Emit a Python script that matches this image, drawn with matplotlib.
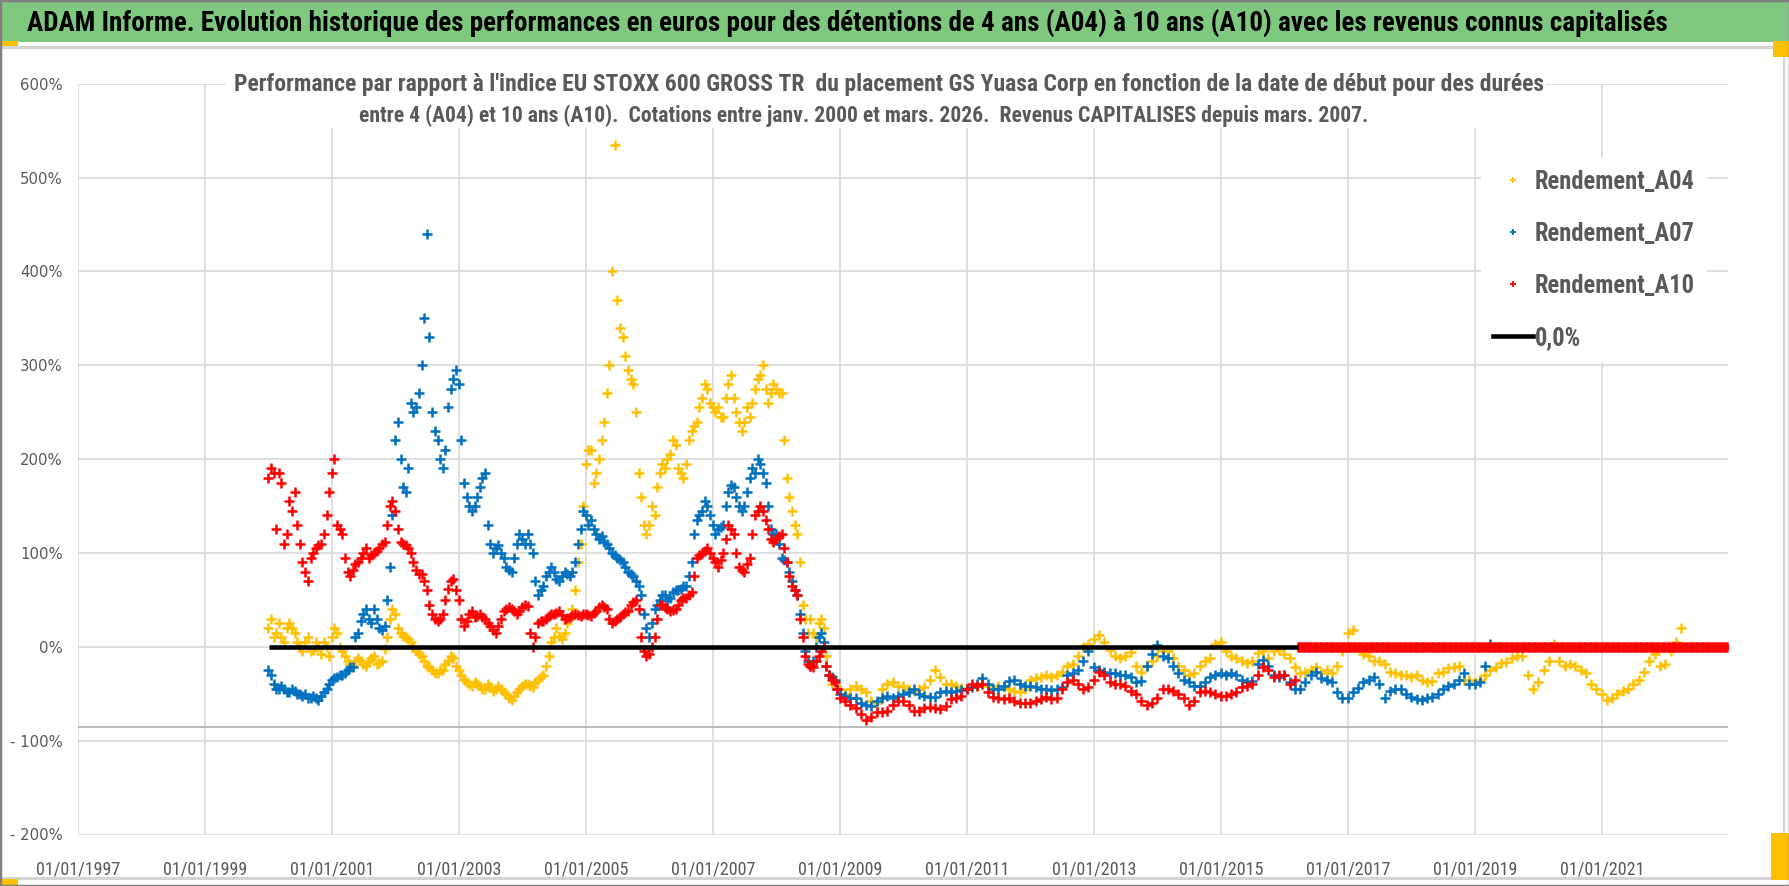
import numpy as np
import pandas as pd
import matplotlib
matplotlib.use("Agg")
import matplotlib.pyplot as plt
import matplotlib.dates as mdates
from matplotlib import font_manager as fm
from matplotlib.patches import Rectangle
from matplotlib.lines import Line2D

# ---- data (percent) ----
# start-of-month readings from Jan 2000
a04 = [20, 10, 25, 5, 25, 15, 0, 5, -5, 5, -8, 0,
       10, 15, -5, -15, -20, -12, -18, -15, -10, -17, -2, 30,
       35, 15, 10, 5, -5, -10, -20, -25, -28, -25, -15, -12,
       -25, -35, -40, -38, -42, -45, -43, -45, -45, -50, -57, -48,
       -42, -40, -43, -35, -30, -10, 10, 12, 15, 30, 60, 110,
       195, 210, 185, 220, 270, 400, 370, 330, 295, 280, 185, 130,
       130, 140, 185, 190, 205, 215, 185, 195, 230, 240, 265, 275,
       255, 255, 245, 280, 265, 240, 240, 245, 275, 290, 275, 270,
       275, 270, 180, 145, 120, 45, 15, 15, 25, 20, -30, -35,
       -45, -50, -45, -42, -45, -48, -58, -60, -45, -40, -38, -42,
       -42, -45, -47, -45, -43, -35, -25, -32, -40, -40, -42, -44,
       -45, -43, -42, -40, -42, -45, -42, -43, -45, -47, -48, -45,
       -35, -33, -32, -30, -32, -30, -27, -20, -18, -10, 0, 3,
       8, 13, 5, -3, -10, -12, -10, -6, -20, -27, -20, -15,
       -10, -5, -5, -12, -20, -25, -30, -28, -20, -15, -12, 3,
       5, -5, -10, -12, -15, -17, -15, -7, -5, -12, -5, -3,
       -8, -12, -22, -28, -27, -25, -22, -28, -25, -28, -20, -5,
       15, 18, 0, -8, -10, -15, -15, -18, -27, -28, -30, -30,
       -32, -30, -35, -38, -36, -28, -27, -23, -22, -20, -35, -35,
       -37, -35, -30, -25, -22, -17, -16, -12, -10, -10, -30, -45,
       -38, -25, -15, 3, -15, -20, -18, -20, -25, -28, -40, -45,
       -50, -57, -55, -50, -47, -45, -40, -35, -27, -15, -8, -20,
       -18, -5, 5, 20]

a07 = [-25, -40, -45, -45, -48, -47, -50, -50, -55, -55, -52, -45,
       -35, -32, -30, -25, -22, 15, 35, 30, 40, 20, 22, 85,
       220, 200, 165, 260, 255, 300, 440, 250, 220, 190, 255, 285,
       280, 175, 150, 150, 170, 185, 110, 105, 100, 85, 80, 110,
       115, 120, 100, 55, 65, 80, 80, 70, 80, 75, 90, 125,
       140, 135, 120, 118, 110, 100, 95, 90, 80, 75, 65, 35,
       10, 40, 50, 55, 52, 60, 62, 65, 90, 135, 145, 150,
       130, 125, 130, 165, 170, 150, 150, 180, 185, 195, 175, 125,
       120, 95, 90, 70, 55, 15, -15, -15, 10, 5, -30, -35,
       -50, -52, -55, -55, -60, -62, -63, -58, -55, -52, -55, -52,
       -50, -48, -45, -50, -52, -54, -53, -48, -47, -48, -47, -46,
       -45, -43, -40, -33, -40, -45, -45, -42, -36, -35, -40, -42,
       -42, -43, -45, -45, -46, -45, -43, -30, -28, -25, -15, -5,
       -22, -25, -27, -28, -28, -30, -30, -32, -37, -36, -20, -8,
       2, -10, -12, -20, -28, -35, -38, -42, -42, -38, -32, -30,
       -28, -30, -28, -30, -35, -38, -36, -18, -14, -20, -30, -32,
       -30, -38, -45, -45, -38, -30, -27, -33, -35, -37, -48, -55,
       -55, -48, -44, -38, -35, -32, -40, -55, -47, -45, -45, -50,
       -53, -56, -57, -55, -53, -50, -45, -42, -40, -35, -28, -40,
       -40, -38, -20, 3]

a10 = [180, 185, 185, 110, 155, 165, 110, 80, 95, 105, 110, 140,
       185, 130, 120, 80, 82, 90, 100, 95, 100, 105, 112, 150,
       145, 112, 108, 100, 82, 78, 60, 35, 28, 35, 62, 72,
       50, 22, 35, 32, 35, 30, 22, 15, 30, 40, 40, 35,
       42, 43, 0, 25, 28, 33, 35, 38, 30, 32, 35, 33,
       35, 33, 38, 45, 40, 25, 30, 35, 38, 48, 40, -5,
       -8, 10, 45, 42, 38, 40, 50, 52, 58, 95, 100, 105,
       95, 85, 100, 130, 120, 85, 80, 95, 140, 150, 135, 115,
       115, 120, 90, 65, 55, 10, -18, -22, -10, 0, -30, -38,
       -55, -58, -62, -65, -72, -78, -75, -70, -70, -68, -62, -58,
       -58, -62, -68, -68, -65, -64, -65, -66, -63, -56, -55, -52,
       -45, -40, -42, -40, -48, -54, -55, -56, -55, -58, -60, -60,
       -60, -58, -56, -54, -56, -55, -45, -38, -35, -40, -45, -43,
       -35, -27, -30, -38, -40, -40, -42, -47, -50, -58, -62, -60,
       -55, -45, -45, -47, -50, -55, -62, -58, -48, -47, -48, -50,
       -52, -52, -50, -48, -43, -42, -40, -30, -22, -25, -32, -30,
       -30, -40, -35]

# mid-month readings, Jan 2000 - Dec 2008 (the scattered part of the clouds)
a04_mid = [30, 15, 10, 20, 20, 5, -5, 10, -3, 0, 5, -10,
           20, 0, -10, -18, -15, -15, -20, -12, -18, -15, 10, 40,
           20, 12, 8, 0, -8, -15, -22, -28, -25, -18, -10, -20,
           -30, -38, -42, -40, -45, -40, -47, -42, -48, -55, -52, -45,
           -40, -42, -38, -32, -20, 5, 20, 8, 25, 40, 90, 150,
           210, 175, 200, 240, 300, 535, 340, 310, 285, 250, 160, 120,
           150, 170, 195, 200, 220, 190, 180, 220, 235, 255, 280, 260,
           250, 245, 265, 290, 250, 230, 255, 260, 285, 300, 260, 280,
           270, 220, 160, 130, 90, 30, 30, 10, 30, -10, -40, -45]

a07_mid = [-30, -45, -42, -48, -45, -50, -52, -55, -52, -57, -48, -40,
           -33, -30, -28, -22, 10, 28, 40, 25, 30, 18, 50, 140,
           240, 170, 190, 250, 270, 350, 330, 230, 200, 210, 275, 295,
           220, 160, 145, 160, 180, 130, 100, 108, 95, 82, 95, 120,
           110, 110, 70, 60, 75, 85, 72, 75, 78, 80, 110, 145,
           130, 125, 115, 112, 105, 98, 92, 85, 78, 70, 55, 20,
           25, 45, 55, 50, 58, 60, 65, 75, 120, 140, 155, 140,
           120, 128, 150, 172, 160, 145, 165, 190, 200, 185, 150, 120,
           110, 92, 80, 60, 35, -5, -20, 0, 15, -20, -32, -45]

a10_mid = [190, 125, 175, 120, 145, 130, 90, 70, 100, 108, 120, 165,
           200, 125, 95, 75, 88, 95, 105, 98, 102, 110, 130, 155,
           125, 110, 105, 90, 78, 70, 45, 30, 30, 50, 70, 60,
           30, 28, 38, 33, 32, 25, 18, 22, 38, 42, 38, 38,
           45, 15, 10, 28, 30, 35, 36, 34, 31, 34, 34, 35,
           34, 36, 42, 42, 30, 28, 32, 37, 45, 50, 10, -10,
           0, 30, 45, 40, 39, 45, 52, 55, 75, 98, 102, 100,
           90, 92, 115, 125, 100, 82, 88, 120, 145, 145, 125, 112,
           118, 105, 75, 60, 30, -10, -20, -15, -5, -20, -35, -45]

# A10 after March 2016: no complete 10-year window -> plotted at 0
a10_flat_start, a10_flat_end = "2016-03-20", "2022-12-31"
zero_start, zero_end = "2000-01-03", "2016-03-18"

labels = ["Rendement_A04", "Rendement_A07", "Rendement_A10", "0,0%"]
colors = ["#FFC000", "#0070C0", "#FF0000", "#000000"]
year_ticks = list(range(1997, 2022, 2))
y_ticks = [600, 500, 400, 300, 200, 100, 0, -100, -200]
y_tick_labels = ["600%", "500%", "400%", "300%", "200%", "100%", "0%", "- 100%", "- 200%"]

title = ("ADAM Informe. Evolution historique des performances en euros pour des "
         "détentions de 4 ans (A04) à 10 ans (A10) avec les revenus connus capitalisés")
sub1 = ("Performance par rapport à l'indice EU STOXX 600 GROSS TR  du placement GS Yuasa Corp "
        "en fonction de la date de début pour des durées")
sub2 = ("entre 4 (A04) et 10 ans (A10).  Cotations entre janv. 2000 et mars. 2026.  "
        "Revenus CAPITALISES depuis mars. 2007.")


def pick(names):
    for n in names:
        try:
            fm.findfont(fm.FontProperties(family=n), fallback_to_default=False)
            return n
        except ValueError:
            pass
    return "DejaVu Sans"


cond = pick(["Liberation Sans Narrow", "Roboto Condensed", "Open Sans Condensed", "Liberation Sans"])
grey = "#595959"

W, H = 1790, 886
fig = plt.figure(figsize=(W / 100, H / 100), dpi=100)
fig.patch.set_facecolor("white")


def fx(px):
    return px / W


def fy(py):
    return 1 - py / H


def fit_size(text, target_w, family, weight="normal", size=12):
    t = fig.text(0, 0, text, family=family, weight=weight, size=size)
    r = fig.canvas.get_renderer()
    ext = t.get_window_extent(r)
    t.remove()
    return size * target_w / ext.width, ext.height * target_w / ext.width


ax = fig.add_axes([fx(78), fy(834.5), fx(1728) - fx(78), fy(83.7) - fy(834.5)])

d04 = pd.date_range("2000-01-01", periods=len(a04), freq="MS")
d07 = pd.date_range("2000-01-01", periods=len(a07), freq="MS")
d10 = pd.date_range("2000-01-01", periods=len(a10), freq="MS")
d_mid = pd.date_range("2000-01-01", periods=len(a04_mid), freq="MS") + pd.Timedelta(days=14)
d10_flat = pd.date_range(a10_flat_start, a10_flat_end, freq="W")

mk = dict(linestyle="none", marker="+", ms=7.5, mew=1.8)
ax.plot(d04, a04, color=colors[0], zorder=3, **mk)
ax.plot(d_mid, a04_mid, color=colors[0], zorder=3, **mk)
ax.plot(d07, a07, color=colors[1], zorder=4, **mk)
ax.plot(d_mid, a07_mid, color=colors[1], zorder=4, **mk)
ax.plot(d10, a10, color=colors[2], zorder=5, **mk)
ax.plot(d_mid, a10_mid, color=colors[2], zorder=5, **mk)
ax.plot(d10_flat, [0] * len(d10_flat), color=colors[2], zorder=5, **mk)
ax.plot(pd.to_datetime([zero_start, zero_end]), [0, 0], color="black", lw=3.3, zorder=6,
        solid_capstyle="butt")
ax.axhline(-85, color="#B4B4B4", lw=1.3, zorder=2)

ax.set_xlim(pd.Timestamp("1997-01-01"), pd.Timestamp("2022-12-28"))
ax.set_ylim(-200, 600)
ax.set_xticks([pd.Timestamp(f"{y}-01-01") for y in year_ticks])
ax.xaxis.set_major_formatter(mdates.DateFormatter("%d/%m/%Y"))
ax.set_yticks(y_ticks)
ax.set_yticklabels(y_tick_labels)
ax.grid(True, color="#D9D9D9", lw=1.2, zorder=0)
ax.set_axisbelow(True)
for s in ax.spines.values():
    s.set_visible(False)

xs, _ = fit_size("01/01/1997", 84, cond)
ys, _ = fit_size("600%", 42, "DejaVu Sans")
ax.tick_params(axis="x", length=0, pad=19, labelsize=xs, labelcolor=grey)
ax.tick_params(axis="y", length=0, pad=11, labelsize=ys, labelcolor=grey)
for t in ax.get_xticklabels():
    t.set_family(cond)

# legend
ls_size, ls_h = fit_size("Rendement_A04", 160, cond, "bold", 18)
fpx = ls_size * 100 / 72
handles = [Line2D([], [], ls="none", marker="+", color=c, ms=5, mew=1.3) for c in colors[:3]]
handles.append(Line2D([], [], color="black", lw=3.3))
leg = ax.legend(handles, labels, loc="upper left", bbox_to_anchor=(fx(1460), fy(150)),
                bbox_transform=fig.transFigure, frameon=True, facecolor="white",
                edgecolor="none", framealpha=1, fancybox=False,
                prop=dict(family=cond, weight="bold", size=ls_size), labelcolor=grey,
                handlelength=40 / fpx, handletextpad=2 / fpx,
                labelspacing=(51.5 - ls_h) / fpx, borderpad=0.5, borderaxespad=0)
leg.set_zorder(10)
fig.canvas.draw()
r = fig.canvas.get_renderer()
e = leg.get_texts()[0].get_window_extent(r)
dx = 1535 - e.x0
dy = (H - 182) - (e.y0 + e.y1) / 2
leg.set_bbox_to_anchor((fx(1460 + dx), fy(150 - dy)), transform=fig.transFigure)

# frame decorations
fig.patches.append(Rectangle((0, fy(42)), 1, fy(2) - fy(42), transform=fig.transFigure,
                             facecolor="#7EC880", edgecolor="none", zorder=1))
fig.add_artist(Line2D([0, 1], [fy(46.5), fy(46.5)], color="#D4D4D4", lw=2.2, zorder=1))
fig.add_artist(Line2D([0, 1], [fy(878), fy(878)], color="#D4D4D4", lw=2.2, zorder=1))
fig.add_artist(Line2D([fx(1784), fx(1784)], [fy(46.5), fy(878)], color="#D4D4D4", lw=1.5, zorder=1))
for x0, y0, w, h in [(0, 41, 18, 5), (1773, 41, 17, 16), (1771, 833, 19, 47), (0, 879, 18, 7)]:
    fig.patches.append(Rectangle((fx(x0), fy(y0 + h)), w / W, h / H, transform=fig.transFigure,
                                 facecolor="#FFC000", edgecolor="none", zorder=2))
fig.add_artist(Rectangle((0, 0), 1, 1, transform=fig.transFigure, fill=False,
                         edgecolor="#808080", lw=2.5, zorder=3))

# white panel behind the chart title
fig.patches.append(Rectangle((fx(226), fy(128)), (1546 - 226) / W, 60 / H,
                             transform=fig.transFigure, facecolor="white",
                             edgecolor="none", zorder=1))

ts, _ = fit_size(title, 1642, cond, "bold", 17)
fig.text(fx(27.5), fy(24), title, ha="left", va="center", family=cond, weight="bold",
         size=ts, color="black", zorder=4)
s1, _ = fit_size(sub1, 1306, cond, "bold", 16)
s2, _ = fit_size(sub2, 1010, cond, "bold", 16)
fig.text(fx(234), fy(85), sub1, ha="left", va="center", family=cond, weight="bold",
         size=s1, color=grey, zorder=4)
fig.text(fx(359), fy(116), sub2, ha="left", va="center", family=cond, weight="bold",
         size=s2, color=grey, zorder=4)

fig.savefig("out.png", dpi=100)
